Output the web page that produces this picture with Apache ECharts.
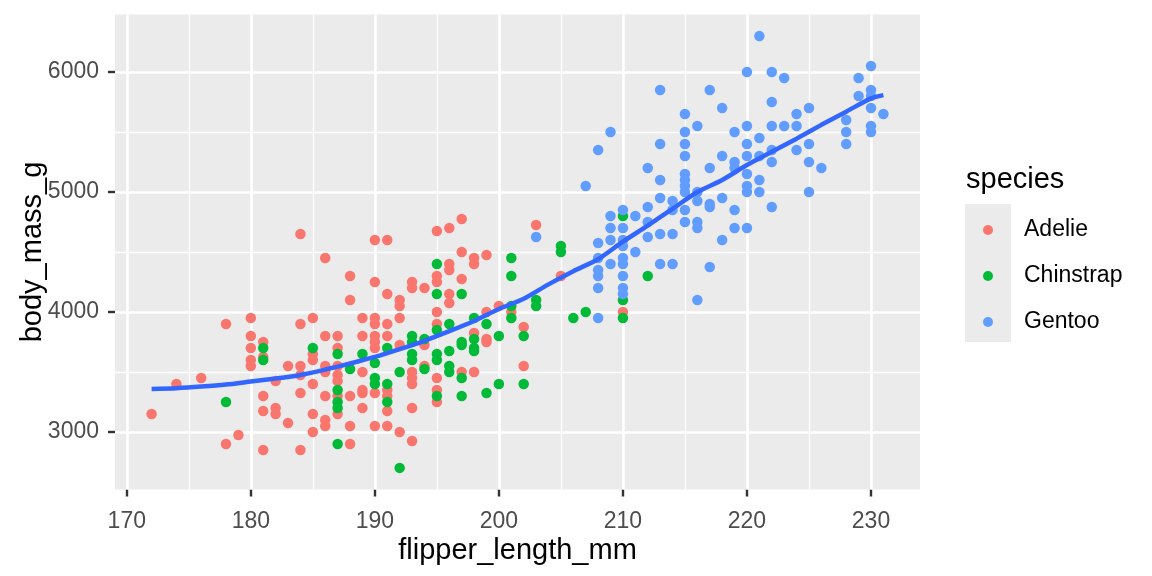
<!DOCTYPE html>
<html>
<head>
<meta charset="utf-8">
<script src="https://cdn.jsdelivr.net/npm/echarts@6/dist/echarts.min.js"></script>
<style>
  html, body { margin: 0; padding: 0; background: #fff; }
  #chart { width: 1152px; height: 576px; }
</style>
</head>
<body>
<div id="chart"></div>
<script>
// values: [flipper_length_mm, body_mass_g]
const adelie = [
  [180,3950],[178,3900],[184,3900],[180,3800],[181,3750],[180,3700],[181,3625],[180,3600],[180,3550],[183,3550],
  [184,3550],[176,3450],[174,3400],[182,3425],[184,3325],[181,3300],[181,3175],[182,3200],[182,3150],[172,3150],
  [183,3075],[179,2975],[178,2900],[181,2850],[184,2850],
  [184,4650],[190,4600],[186,4450],[188,4300],[190,4250],[188,4100],[185,3950],[189,3950],[190,3950],[190,3900],
  [186,3800],[187,3800],[189,3800],[190,3800],[187,3700],[190,3750],[190,3700],[185,3650],[185,3600],[186,3550],
  [187,3550],[189,3500],[186,3500],[184,3475],[187,3475],[187,3425],[185,3400],[186,3300],[188,3300],[189,3350],
  [189,3325],[190,3325],[187,3300],[187,3150],[189,3200],[185,3150],[186,3100],[186,3050],[188,3050],[190,3050],
  [185,3000],[188,2900],
  [197,4775],[196,4700],[195,4675],[191,4600],[197,4500],[199,4475],[198,4450],[198,4400],[196,4400],[196,4350],
  [195,4300],[195,4250],[193,4250],[193,4200],[194,4200],[197,4275],[191,4150],[196,4150],[196,4075],[192,4100],
  [192,4050],[192,3950],[195,4000],[199,4000],[200,4050],[201,4000],[191,3900],[195,3900],[198,3825],[202,3875],
  [191,3800],[194,3725],[199,3775],[199,3750],[192,3725],[194,3550],[193,3500],[193,3450],[193,3400],[197,3500],
  [198,3500],[202,3550],[195,3450],[191,3350],[191,3300],[191,3175],[195,3350],[195,3250],[193,3200],[191,3050],
  [192,3000],[193,2925],
  [203,4725],[205,4300],[210,4000]
];

const chinstrap = [
  [181,3700],[181,3600],[178,3250],
  [185,3700],[187,3650],[189,3650],[190,3575],[188,3525],[190,3450],[190,3400],[187,3350],[187,3250],[187,3200],
  [187,2900],
  [201,4450],[195,4400],[201,4300],[195,4150],[197,4150],[201,4050],[201,3950],[195,3850],[196,3900],[198,3950],
  [199,3900],[193,3800],[193,3750],[194,3775],[198,3775],[200,3800],[202,3800],[191,3700],[197,3750],[197,3725],
  [198,3700],[198,3675],[193,3650],[193,3600],[195,3650],[195,3600],[196,3675],[196,3550],[196,3500],[194,3525],
  [192,3500],[191,3400],[197,3450],[200,3400],[202,3400],[191,3250],[195,3300],[197,3300],[199,3325],[192,2700],
  [205,4550],[205,4500],[203,4100],[203,4050],[206,3950],[207,4000],[210,4100],[210,3950],[210,4800],[212,4300]
];

const gentoo = [
  [203,4625],[208,3950],[208,4200],[208,4300],[208,4350],[208,4450],[208,4575],[209,4800],[209,4700],[209,4600],
  [209,4400],[210,4850],[210,4700],[210,4600],[210,4550],[210,4450],[210,4400],[210,4300],[210,4200],[210,4150],
  [211,4800],[211,4500],[212,4875],[212,4750],[212,4625],[213,4650],[213,4400],
  [207,5050],[208,5350],[209,5500],[212,5200],[213,5400],[213,5100],[213,4950],[214,4925],[214,4850],[214,4650],
  [214,4400],[215,5650],[215,5500],[215,5400],[215,5300],[215,5150],[215,5100],[215,5050],[215,5000],[215,4850],
  [215,4750],[216,5550],[216,5000],[216,4925],[216,4750],[216,4700],[216,4100],[217,5200],[217,4900],[217,4875],
  [217,4375],[218,5700],[218,5300],[218,4950],[218,4600],
  [221,6300],[220,6000],[222,6000],[223,5950],[217,5850],[222,5750],[219,5500],[220,5550],[221,5450],[222,5550],
  [223,5550],[224,5550],[224,5650],[225,5700],[220,5400],[220,5300],[221,5300],[222,5350],[222,5250],[224,5350],
  [225,5400],[225,5250],[226,5200],[219,5250],[219,5200],[220,5150],[220,5050],[220,5000],[221,5100],[221,5000],
  [219,4850],[219,4700],[220,4700],[222,4875],[225,5000],[228,5600],[228,5500],[228,5400],[229,5950],[229,5800],
  [230,6050],[230,5850],[230,5800],[230,5700],[230,5550],[230,5500],[231,5650],
  [213,5850]
];

// loess curve
const smoothX = [172,174,176,178,180,182,184,186,188,190,192,194,196,198,200,202,204,206,208,210,212,214,216,218,220,222,224,226,228,230,231];
const smoothY = [3358,3365,3378,3395,3420,3445,3475,3520,3570,3625,3690,3760,3840,3925,4025,4110,4230,4340,4440,4586,4720,4860,5000,5100,5225,5335,5445,5560,5670,5781,5808];

const xBreaks = [170,180,190,200,210,220,230];
const xMinor = [175,185,195,205,215,225];
const yBreaks = [3000,4000,5000,6000];
const yMinor = [3500,4500,5500];
const speciesNames = ['Adelie','Chinstrap','Gentoo'];
const speciesColors = ['#F8766D','#00BA38','#619CFF'];

const FONT = '"Liberation Sans", Arial, sans-serif';
const chart = echarts.init(document.getElementById('chart'), null, { renderer: 'canvas' });

function gridLines() {
  const out = [];
  xMinor.forEach(v => out.push({ xAxis: v, lineStyle: { width: 1.3 } }));
  yMinor.forEach(v => out.push({ yAxis: v, lineStyle: { width: 1.3 } }));
  xBreaks.forEach(v => out.push({ xAxis: v, lineStyle: { width: 2.6 } }));
  yBreaks.forEach(v => out.push({ yAxis: v, lineStyle: { width: 2.6 } }));
  return out;
}

const pointSeries = [adelie, chinstrap, gentoo].map((d, i) => ({
  name: speciesNames[i],
  type: 'scatter',
  data: d,
  symbol: 'circle',
  symbolSize: 10.5,
  itemStyle: { color: speciesColors[i], opacity: 1 },
  z: 10,
  silent: true
}));

const option = {
  animation: false,
  backgroundColor: '#ffffff',
  textStyle: { fontFamily: FONT },
  title: {
    text: 'species',
    left: 961,
    top: 160,
    textStyle: { fontFamily: FONT, fontSize: 29, fontWeight: 'normal', color: '#000000' }
  },
  grid: {
    left: 115, right: 232, top: 14.5, bottom: 86.5,
    show: true, backgroundColor: '#EBEBEB', borderWidth: 0
  },
  xAxis: {
    type: 'value',
    min: 169.05,
    max: 233.95,
    name: 'flipper_length_mm',
    nameLocation: 'middle',
    nameGap: 47,
    nameMoveOverlap: false,
    nameTextStyle: { fontFamily: FONT, fontSize: 29, color: '#000000' },
    axisLine: { show: false },
    splitLine: { show: false },
    axisTick: { show: true, customValues: xBreaks, length: 7, lineStyle: { color: '#333333', width: 2.4 } },
    axisLabel: { customValues: xBreaks, margin: 21, fontFamily: FONT, fontSize: 23, color: '#4D4D4D' }
  },
  yAxis: {
    type: 'value',
    min: 2520,
    max: 6480,
    name: 'body_mass_g',
    nameLocation: 'middle',
    nameGap: 68,
    nameMoveOverlap: false,
    nameTextStyle: { fontFamily: FONT, fontSize: 29, color: '#000000' },
    axisLine: { show: false },
    splitLine: { show: false },
    axisTick: { show: true, customValues: yBreaks, length: 7, lineStyle: { color: '#333333', width: 2.4 } },
    axisLabel: { customValues: yBreaks, margin: 16, fontFamily: FONT, fontSize: 23, color: '#4D4D4D',
                 formatter: v => String(v) }
  },
  legend: {
    data: speciesNames,
    orient: 'vertical',
    left: 978,
    top: 202,
    icon: 'circle',
    itemWidth: 62,
    itemHeight: 10,
    itemGap: 0,
    selectedMode: false,
    textStyle: { fontFamily: FONT, fontSize: 23, color: '#000000', lineHeight: 46 }
  },
  graphic: [{
    type: 'rect',
    shape: { x: 965, y: 204, width: 46, height: 138 },
    style: { fill: '#EBEBEB' },
    z: -1,
    silent: true
  }],
  series: [
    {
      name: 'grid',
      type: 'line',
      data: [],
      z: 1,
      silent: true,
      markLine: {
        silent: true,
        z: 1,
        symbol: ['none', 'none'],
        label: { show: false },
        lineStyle: { color: '#FFFFFF', type: 'solid' },
        emphasis: { disabled: true },
        data: gridLines()
      }
    },
    ...pointSeries,
    {
      name: 'loess',
      type: 'line',
      data: smoothX.map((x, i) => [x, smoothY[i]]),
      smooth: 0.25,
      showSymbol: false,
      lineStyle: { color: '#3366FF', width: 4.5 },
      z: 11,
      silent: true
    }
  ]
};

chart.setOption(option);
</script>
</body>
</html>
